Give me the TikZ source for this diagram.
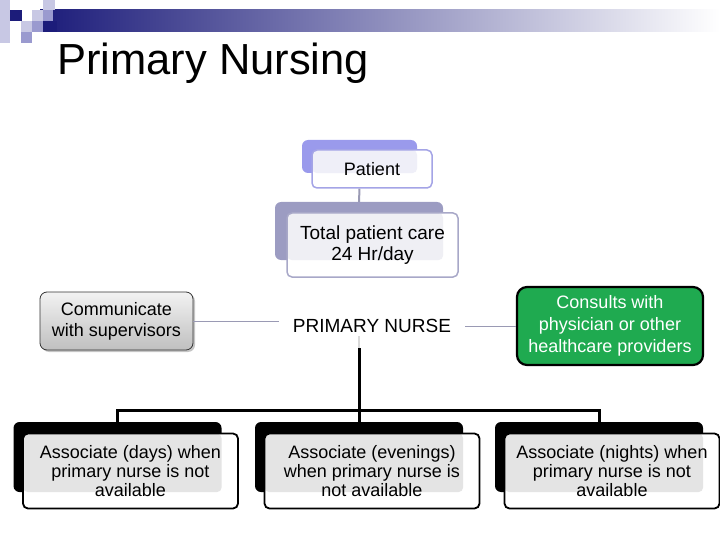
\documentclass[tikz,border=0pt]{standalone}
\usepackage{fontspec}
\setmainfont{Liberation Sans}
\usetikzlibrary{shadows}

\definecolor{navy}{HTML}{1C1C7A}
\definecolor{sqlight}{HTML}{C8C8E4}
\definecolor{sqmid}{HTML}{9A9ACF}
\definecolor{patback}{HTML}{9A9AEC}
\definecolor{patline}{HTML}{A4A4E6}
\definecolor{patfill}{HTML}{EFEFF8}
\definecolor{totback}{HTML}{9C9CC2}
\definecolor{totline}{HTML}{A8A8C8}
\definecolor{totfill}{HTML}{EFEFF4}
\definecolor{linkgray}{HTML}{9A9AB4}
\definecolor{consgreen}{HTML}{1FAA50}
\definecolor{assocfill}{HTML}{E4E4E4}

\begin{document}
\begin{tikzpicture}[x=1pt, y=-1pt,
  every node/.style={align=center, font=\fontsize{18}{21}\selectfont},
  backbox/.style={rounded corners=6pt, inner sep=0pt},
  frontbox/.style={rounded corners=5pt, fill=white, inner sep=0pt},
  overlap/.style={path picture={\fill[#1] (path picture bounding box.north west) rectangle (\lastback.south east);}},
  assocback/.style={backbox, fill=black, minimum width=208, minimum height=70},
  assocfront/.style={frontbox, draw=black, line width=1.8pt, minimum width=215, minimum height=75,
    font=\fontsize{18}{19}\selectfont},
  link/.style={draw=linkgray, line width=0.8pt},
  busline/.style={draw=black, line width=3pt}]
  \useasboundingbox (0,0) rectangle (720,540);

  % title bar
  \shade[left color=navy, right color=white] (40,10) rectangle (720,32);
  \fill[sqlight] (0,0) rectangle (10,43);
  \fill[navy] (10,10) rectangle (22,21);
  \fill[sqlight] (32,10) rectangle (43,21);
  \fill[sqlight] (43,0) rectangle (55,10);
  \fill[sqmid] (43,10) rectangle (53,21);
  \fill[sqlight] (21,21) rectangle (32,32);
  \fill[sqmid] (32,21) rectangle (43,32);
  \fill[navy] (43,21) rectangle (57,32);
  \fill[sqmid] (21,32) rectangle (32,43);
  \node[anchor=base west, inner sep=0pt, font=\fontsize{43.5}{50}\selectfont] (title) at (57,75) {Primary Nursing};

  % patient
  \node[backbox, fill=patback, minimum width=115, minimum height=33] (patb) at (359.5,156.5) {};
  \def\lastback{patb}
  \node[frontbox, draw=patline, line width=1.5pt, minimum width=120, minimum height=38,
    overlap=patfill] (pat) at (372,169) {Patient};

  % total care
  \node[backbox, fill=totback, minimum width=168, minimum height=58] (totb) at (359,231) {};
  \def\lastback{totb}
  \node[frontbox, draw=totline, line width=1.5pt, minimum width=171, minimum height=64,
    overlap=totfill, font=\fontsize{19}{21}\selectfont] (tot) at (372.5,245) {Total patient care\\24 Hr/day};
  \draw[draw=linkgray, line width=2pt] (pat.south -| patb) -- (totb.north);

  % primary nurse row
  \node[minimum width=186, font=\fontsize{19}{21}\selectfont] (pn) at (372,326) {PRIMARY NURSE};
  \node[rounded corners=7pt, draw=black!80, line width=0.8pt, top color=black!5, bottom color=black!25,
    drop shadow={shadow xshift=2pt, shadow yshift=-2pt, fill=black!45},
    minimum width=153, minimum height=58, inner sep=0pt] (comm) at (116.5,321) {Communicate\\with supervisors};
  \node[rounded corners=10pt, draw=black, fill=consgreen, text=white, line width=2.2pt,
    minimum width=186, minimum height=78, inner sep=0pt,
    font=\fontsize{18}{22}\selectfont] (cons) at (610,326) {Consults with\\physician or other\\healthcare providers};
  \draw[link] (comm.east) -- (comm.east -| pn.west);
  \draw[link] (cons.west) -- (cons.west -| pn.east);

  % associates
  \foreach \n/\bx/\txt in {days/117.5/{Associate (days) when\\primary nurse is not\\available},
                           even/359/{Associate (evenings)\\when primary nurse is\\not available},
                           night/599/{Associate (nights) when\\primary nurse is not\\available}} {
    \node[assocback] (\n b) at (\bx,457) {};
    \def\lastback{\n b}
    \node[assocfront, overlap=assocfill] (\n) at (\bx+13,471) {\txt};
  }

  % bus
  \coordinate (bus) at (359,410);
  \draw[draw=black!15, line width=2pt] (pn.south -| bus) -- ++(0,12) coordinate (pnlow);
  \draw[busline] (pnlow) -- (bus) -- (evenb.north);
  \draw[busline] (daysb.north) -- (daysb.north |- bus) -- (nightb.north |- bus) -- (nightb.north);
\end{tikzpicture}
\end{document}
